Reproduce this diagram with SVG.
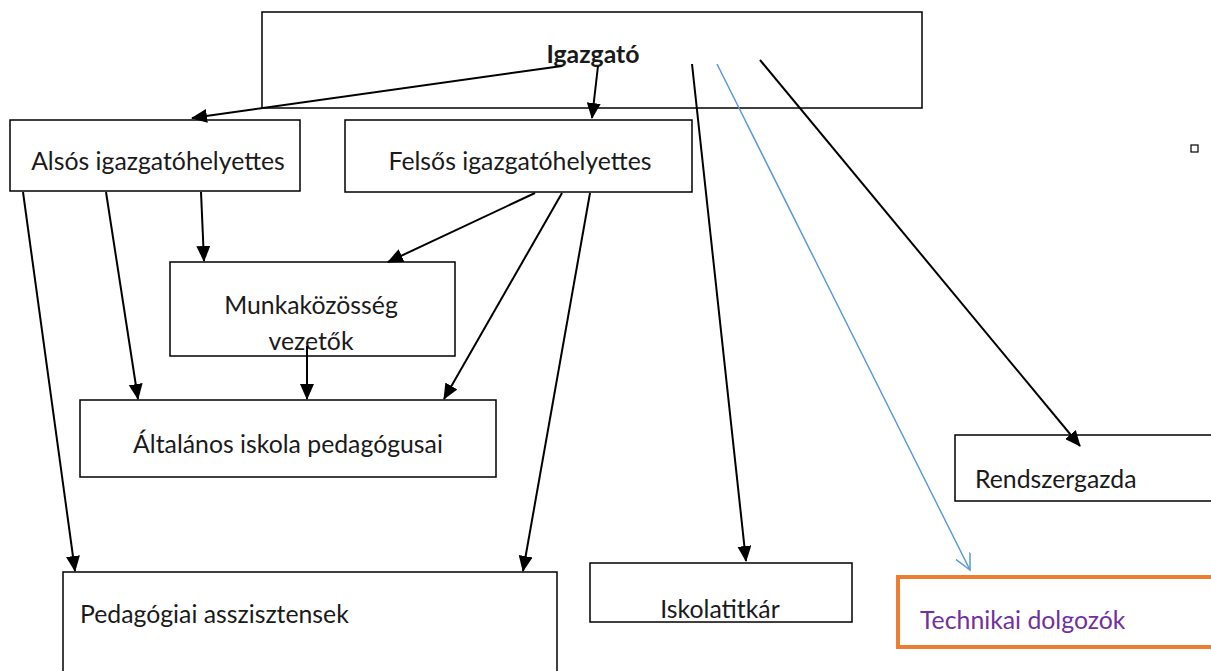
<svg xmlns="http://www.w3.org/2000/svg" width="1211" height="671" viewBox="0 0 1211 671">
<style>
.box{fill:#fff;stroke:#000;stroke-width:1.5}
.t{font-family:Lato,"Open Sans","Liberation Sans",sans-serif;font-size:24.8px;fill:#1a1a1a}
.c{stroke:#000;stroke-width:2;fill:none}
</style>
<defs>
<marker id="ah" markerUnits="userSpaceOnUse" markerWidth="16" markerHeight="14" refX="15" refY="7" orient="auto">
<path d="M0,0 L16,7 L0,14 Z" fill="#000"/>
</marker>
<marker id="ob" markerUnits="userSpaceOnUse" markerWidth="18" markerHeight="16" refX="16" refY="8" orient="auto">
<path d="M0,0 L16,8 L0,16" fill="none" stroke="#5B9BD5" stroke-width="1.5"/>
</marker>
</defs>
<rect width="1211" height="671" fill="#fff"/>
<g id="igazgato"><rect class="box" x="262" y="12" width="660" height="96"/><text class="t" x="593" y="63" text-anchor="middle" font-weight="bold">Igazgató</text></g>
<g id="also"><rect class="box" x="10" y="120" width="290" height="71"/><text class="t" x="158" y="170" text-anchor="middle">Alsós igazgatóhelyettes</text></g>
<g id="felso"><rect class="box" x="345" y="120" width="347" height="72"/><text class="t" x="520" y="170" text-anchor="middle">Felsős igazgatóhelyettes</text></g>
<g id="munka"><rect class="box" x="170" y="262" width="285" height="94"/><text class="t" x="311" y="314" text-anchor="middle">Munkaközösség</text><text class="t" x="311" y="350" text-anchor="middle">vezetők</text></g>
<g id="altalanos"><rect class="box" x="80" y="400" width="416" height="77"/><text class="t" x="288" y="453" text-anchor="middle">Általános iskola pedagógusai</text></g>
<g id="rendszergazda"><rect class="box" x="955" y="435" width="270" height="66"/><text class="t" x="975" y="488">Rendszergazda</text></g>
<g id="pedasszisztens"><rect class="box" x="63" y="572" width="494" height="110"/><text class="t" x="80" y="623">Pedagógiai asszisztensek</text></g>
<g id="iskolatitkar"><rect class="box" x="590" y="563" width="262" height="59"/><text class="t" x="720" y="618" text-anchor="middle">Iskolatitkár</text></g>
<g id="technikai"><rect x="898" y="577" width="330" height="70" fill="#fff" stroke="#ED7D31" stroke-width="4"/><text class="t" x="920" y="629" style="fill:#7030A0">Technikai dolgozók</text></g>
<rect x="1191" y="145" width="7" height="7" fill="none" stroke="#000" stroke-width="1.2"/>
<g id="connectors">
<line class="c" x1="562" y1="66" x2="192" y2="118" marker-end="url(#ah)"/>
<line class="c" x1="598" y1="66" x2="592" y2="118" marker-end="url(#ah)"/>
<line class="c" x1="692" y1="64" x2="746" y2="561" marker-end="url(#ah)"/>
<line x1="717" y1="64" x2="970" y2="570" stroke="#5B9BD5" stroke-width="1.5" marker-end="url(#ob)"/>
<line class="c" x1="760" y1="60" x2="1080" y2="446" marker-end="url(#ah)"/>
<line class="c" x1="23" y1="192" x2="75" y2="571" marker-end="url(#ah)"/>
<line class="c" x1="106" y1="192" x2="138" y2="399" marker-end="url(#ah)"/>
<line class="c" x1="201" y1="192" x2="204" y2="261" marker-end="url(#ah)"/>
<line class="c" x1="535" y1="193" x2="388" y2="262" marker-end="url(#ah)"/>
<line class="c" x1="562" y1="193" x2="444" y2="399" marker-end="url(#ah)"/>
<line class="c" x1="590" y1="193" x2="523" y2="571" marker-end="url(#ah)"/>
<line class="c" x1="307" y1="346" x2="307" y2="399" marker-end="url(#ah)"/>
</g>
</svg>
